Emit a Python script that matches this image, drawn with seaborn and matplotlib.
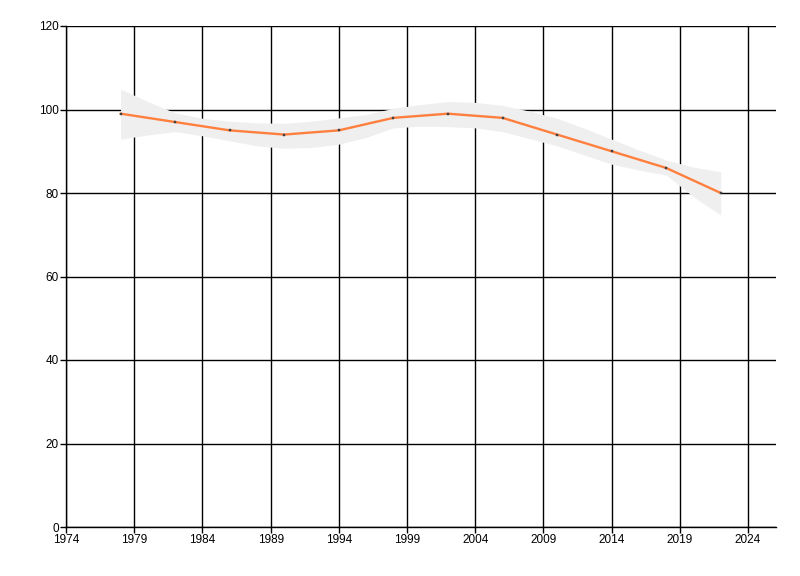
import matplotlib
matplotlib.use("Agg")
import matplotlib.pyplot as plt
import seaborn as sns
import pandas as pd

years = [1978, 1982, 1986, 1990, 1994, 1998, 2002, 2006, 2010, 2014, 2018, 2022]
values = [99, 97, 95, 94, 95, 98, 99, 98, 94, 90, 86, 80]

band_years = [1978, 1980, 1982, 1984, 1986, 1988, 1990, 1992, 1994, 1996, 1998, 2000,
              2002, 2004, 2006, 2008, 2010, 2012, 2014, 2016, 2018, 2020, 2022]
band_upper = [104.9, 101.9, 99.2, 97.9, 97.2, 96.8, 96.7, 97.2, 98.0, 98.8, 100.3, 101.2,
              101.9, 101.7, 101.0, 99.6, 97.9, 95.5, 92.9, 90.3, 87.9, 86.2, 85.1]
band_lower = [92.9, 93.9, 94.7, 93.7, 92.5, 91.3, 90.7, 90.9, 91.7, 93.3, 95.6, 96.0,
              95.9, 95.6, 94.7, 93.0, 91.3, 89.1, 86.9, 85.5, 84.3, 79.1, 74.7]

xticks = [1974, 1979, 1984, 1989, 1994, 1999, 2004, 2009, 2014, 2019, 2024]
yticks = [0, 20, 40, 60, 80, 100, 120]

df = pd.DataFrame({"year": years, "value": values})
band = pd.DataFrame({"year": band_years, "upper": band_upper, "lower": band_lower})

sns.set_style("white")
plt.rcParams["font.family"] = ["Liberation Sans", "DejaVu Sans"]

fig = plt.figure(figsize=(8, 5.76), dpi=100)
ax = fig.add_axes([66 / 800, 49 / 576, 710 / 800, 501 / 576])

ax.fill_between(band["year"], band["lower"], band["upper"], color="#efefef",
                linewidth=0, zorder=2)
sns.lineplot(data=df, x="year", y="value", ax=ax, color="#ff7f3f", linewidth=1.7,
             marker="s", markersize=1.8, markerfacecolor="#404040",
             markeredgecolor="#404040", markeredgewidth=0.3, zorder=3)

ax.set_xlim(1974, 2026.05)
ax.set_ylim(0, 120)
ax.set_xticks(xticks)
ax.set_yticks(yticks)
ax.grid(True, color="black", linewidth=1)
ax.set_axisbelow(True)
for s in ["top", "right"]:
    ax.spines[s].set_visible(False)
for s in ["left", "bottom"]:
    ax.spines[s].set_color("black")
    ax.spines[s].set_linewidth(1)
ax.tick_params(axis="both", which="major", direction="out", length=4, width=1,
               color="black", labelsize=8.5, labelcolor="black", left=True, bottom=True, pad=1)
ax.set_xlabel("")
ax.set_ylabel("")

fig.savefig("out.png", dpi=100)
